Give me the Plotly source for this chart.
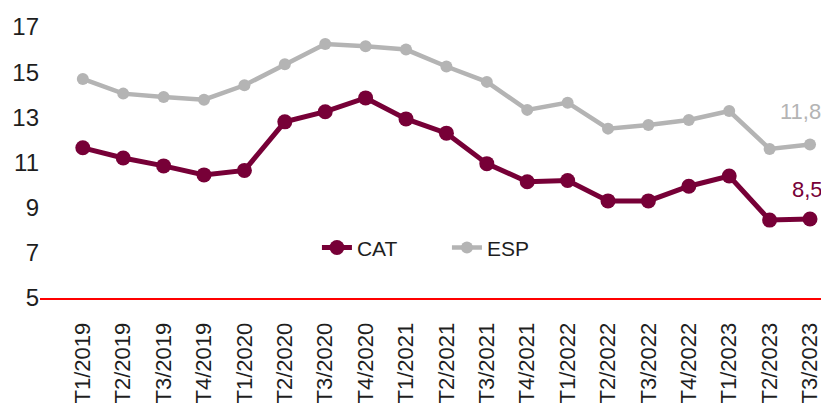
import plotly.graph_objects as go

# Trimestres
trimestres = ['T1/2019', 'T2/2019', 'T3/2019', 'T4/2019',
              'T1/2020', 'T2/2020', 'T3/2020', 'T4/2020',
              'T1/2021', 'T2/2021', 'T3/2021', 'T4/2021',
              'T1/2022', 'T2/2022', 'T3/2022', 'T4/2022',
              'T1/2023', 'T2/2023', 'T3/2023']

# Valores
cat = [11.65, 11.2, 10.85, 10.45, 10.65, 12.8, 13.25, 13.86, 12.93, 12.3,
       10.95, 10.15, 10.2, 9.3, 9.3, 9.95, 10.4, 8.45, 8.5]
esp = [14.7, 14.05, 13.9, 13.78, 14.42, 15.35, 16.25, 16.15, 16.0, 15.25,
       14.57, 13.33, 13.65, 12.5, 12.66, 12.88, 13.28, 11.6, 11.8]

y_ticks = [5, 7, 9, 11, 13, 15, 17]

color_cat = '#770037'
color_esp = '#B4B4B4'
color_texto = '#1E1E1E'
fuente = 'Liberation Sans'

x = list(range(len(trimestres)))

fig = go.Figure()
fig.add_trace(go.Scatter(x=x, y=cat, name='CAT', mode='lines+markers',
                         line=dict(color=color_cat, width=5),
                         marker=dict(color=color_cat, size=15), cliponaxis=False))
fig.add_trace(go.Scatter(x=x, y=esp, name='ESP', mode='lines+markers',
                         line=dict(color=color_esp, width=4.5),
                         marker=dict(color=color_esp, size=12), cliponaxis=False))

# Etiquetas del ultimo valor
fig.add_annotation(x=x[-1], y=esp[-1], text=f'{esp[-1]:.1f}'.replace('.', ','),
                   showarrow=False, yshift=33, xshift=-10,
                   font=dict(family=fuente, size=22, color=color_esp))
fig.add_annotation(x=x[-1], y=cat[-1], text=f'{cat[-1]:.1f}'.replace('.', ','),
                   showarrow=False, yshift=29, xshift=-3,
                   font=dict(family=fuente, size=22, color=color_cat))

# la pagina tiene 8px de margen en el body, por eso 821x397
fig.update_layout(
    width=821, height=397,
    margin=dict(l=32, r=0, t=19, b=107),
    plot_bgcolor='white', paper_bgcolor='white',
    font=dict(family=fuente, color=color_texto),
    showlegend=True,
    legend=dict(orientation='h', x=0.351, xanchor='left', y=0.185, yanchor='middle',
                font=dict(family=fuente, size=21, color=color_texto),
                bgcolor='rgba(0,0,0,0)', entrywidth=85),
)
# eje x: linea roja en la base
fig.update_xaxes(tickmode='array', tickvals=x, ticktext=trimestres,
                 range=[-1.06, 18.47], tickangle=-90, showgrid=False,
                 zeroline=False, showline=True, linecolor='#FF0000', linewidth=2,
                 ticks='', automargin=False, ticklabelstandoff=14,
                 tickfont=dict(family=fuente, size=22, color=color_texto))
fig.update_yaxes(range=[5, 17], tickvals=y_ticks, showgrid=False,
                 zeroline=False, showline=False, ticks='', automargin=False,
                 tickfont=dict(family=fuente, size=24, color=color_texto))

fig.write_html('out.html')
